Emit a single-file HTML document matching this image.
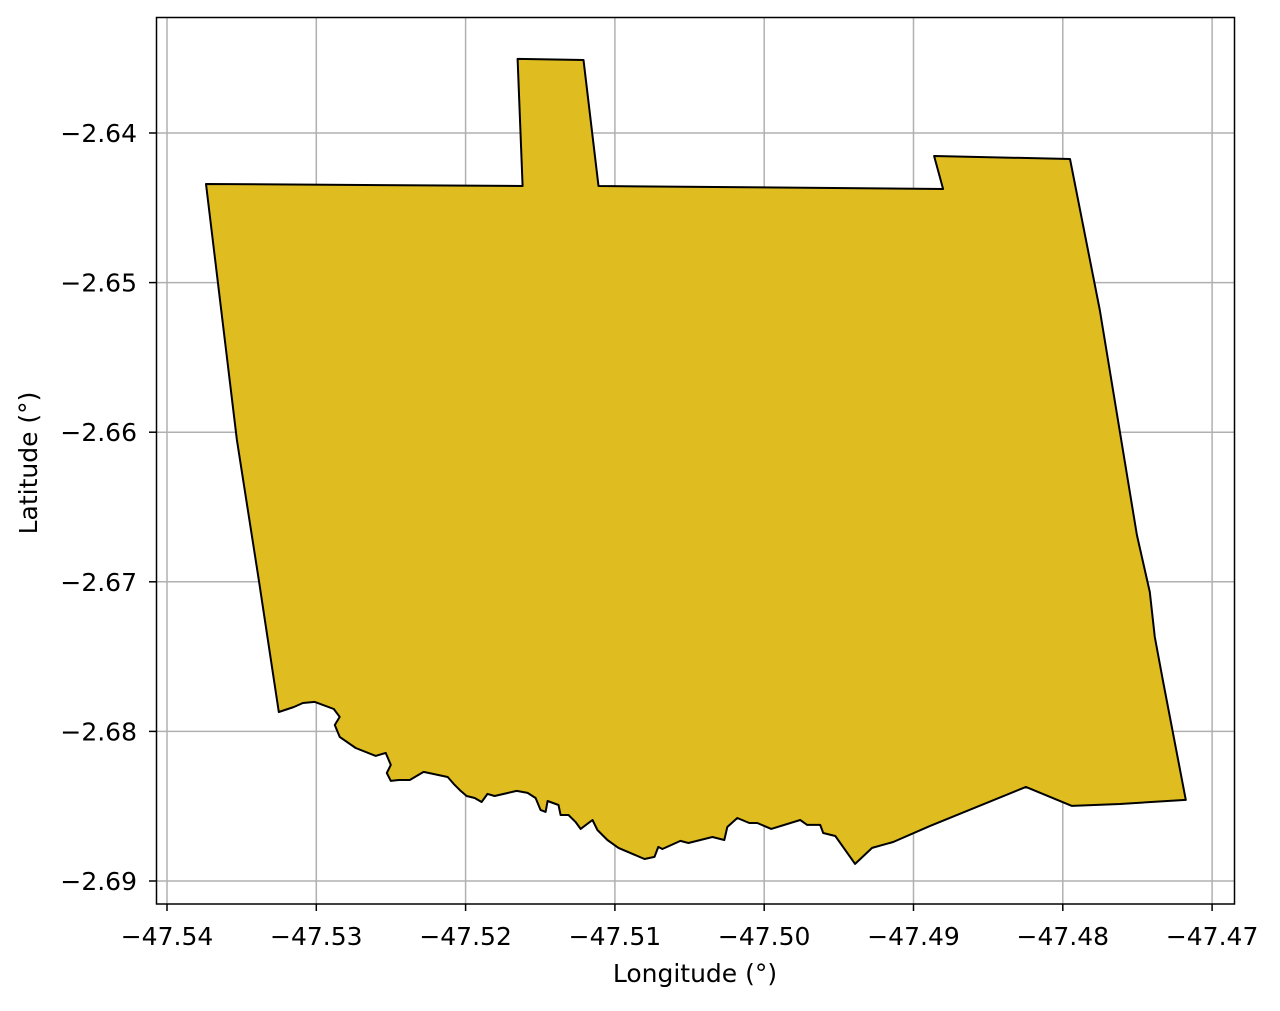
<!DOCTYPE html>
<html><head><meta charset="utf-8"><style>
html,body{margin:0;padding:0;background:#fff;}
svg text{font-family:"DejaVu Sans","Liberation Sans",sans-serif;font-size:25px;fill:#000;}
</style></head><body>
<svg id="chart" width="1280" height="1006" xmlns="http://www.w3.org/2000/svg">
<g id="grid"></g>
<g id="shape"></g>
<rect x="156.5" y="17.5" width="1078" height="886.5" fill="none" stroke="#000" stroke-width="1.5"/>
<g id="ticks"></g>
<text x="695" y="982" text-anchor="middle">Longitude (°)</text>
<text transform="translate(37,463) rotate(-90)" text-anchor="middle">Latitude (°)</text>
</svg>
<script>
const xTicks=[-47.54,-47.53,-47.52,-47.51,-47.50,-47.49,-47.48,-47.47];
const xTickLabels=["−47.54","−47.53","−47.52","−47.51","−47.50","−47.49","−47.48","−47.47"];
const yTicks=[-2.64,-2.65,-2.66,-2.67,-2.68,-2.69];
const yTickLabels=["−2.64","−2.65","−2.66","−2.67","−2.68","−2.69"];
const lons=[-47.53739,-47.51618,-47.51652,-47.51210,-47.51110,-47.48802,-47.48862,-47.47952,-47.47752,-47.47504,-47.47417,-47.47384,-47.47330,-47.47176,-47.47618,-47.47939,-47.48247,-47.48889,-47.49136,-47.49277,-47.49391,-47.49524,-47.49605,-47.49625,-47.49712,-47.49759,-47.49953,-47.50046,-47.50100,-47.50180,-47.50247,-47.50267,-47.50347,-47.50508,-47.50561,-47.50682,-47.50709,-47.50735,-47.50802,-47.50976,-47.51050,-47.51117,-47.51150,-47.51230,-47.51264,-47.51311,-47.51364,-47.51378,-47.51451,-47.51464,-47.51498,-47.51531,-47.51585,-47.51658,-47.51806,-47.51853,-47.51893,-47.51939,-47.51993,-47.52033,-47.52080,-47.52120,-47.52281,-47.52374,-47.52448,-47.52501,-47.52528,-47.52501,-47.52535,-47.52602,-47.52736,-47.52843,-47.52876,-47.52843,-47.52883,-47.53010,-47.53090,-47.53150,-47.53251,-47.53385,-47.53532];
const lats=[-2.64341,-2.64354,-2.63505,-2.63512,-2.64354,-2.64374,-2.64154,-2.64174,-2.65183,-2.66687,-2.67068,-2.67369,-2.67656,-2.68458,-2.68485,-2.68498,-2.68371,-2.68632,-2.68739,-2.68779,-2.68886,-2.68699,-2.68679,-2.68625,-2.68625,-2.68592,-2.68652,-2.68612,-2.68612,-2.68579,-2.68639,-2.68726,-2.68706,-2.68746,-2.68732,-2.68786,-2.68772,-2.68839,-2.68853,-2.68779,-2.68726,-2.68659,-2.68592,-2.68652,-2.68605,-2.68559,-2.68559,-2.68492,-2.68465,-2.68538,-2.68525,-2.68445,-2.68411,-2.68398,-2.68432,-2.68418,-2.68472,-2.68445,-2.68432,-2.68398,-2.68351,-2.68305,-2.68271,-2.68325,-2.68325,-2.68331,-2.68278,-2.68224,-2.68144,-2.68164,-2.68111,-2.68037,-2.67957,-2.67903,-2.67850,-2.67803,-2.67810,-2.67837,-2.67870,-2.66988,-2.66052];
const NS="http://www.w3.org/2000/svg";
function xs(v){return 167+(v+47.54)*14930;}
function ys(v){return 133+(-2.64-v)*14960;}
const grid=document.getElementById('grid'),ticks=document.getElementById('ticks');
xTicks.forEach((t,i)=>{
 const l=document.createElementNS(NS,'line');l.setAttribute('x1',xs(t));l.setAttribute('x2',xs(t));l.setAttribute('y1',17.5);l.setAttribute('y2',904);l.setAttribute('stroke','#b0b0b0');l.setAttribute('stroke-width','1.5');
 
 
 grid.appendChild(l);
 const tk=document.createElementNS(NS,'line');tk.setAttribute('x1',xs(t));tk.setAttribute('x2',xs(t));tk.setAttribute('y1',904);tk.setAttribute('y2',911);tk.setAttribute('stroke','#000');tk.setAttribute('stroke-width','1.5');
 
 
 ticks.appendChild(tk);
 const tx=document.createElementNS(NS,'text');tx.setAttribute('x',xs(t));tx.setAttribute('y',945);tx.setAttribute('text-anchor','middle');tx.textContent=xTickLabels[i];
 
 
 ticks.appendChild(tx);
});
yTicks.forEach((t,i)=>{
 const l=document.createElementNS(NS,'line');l.setAttribute('y1',ys(t));l.setAttribute('y2',ys(t));l.setAttribute('x1',156.5);l.setAttribute('x2',1234.5);l.setAttribute('stroke','#b0b0b0');l.setAttribute('stroke-width','1.5');
 
 
 grid.appendChild(l);
 const tk=document.createElementNS(NS,'line');tk.setAttribute('y1',ys(t));tk.setAttribute('y2',ys(t));tk.setAttribute('x1',149);tk.setAttribute('x2',156.5);tk.setAttribute('stroke','#000');tk.setAttribute('stroke-width','1.5');
 
 
 ticks.appendChild(tk);
 const tx=document.createElementNS(NS,'text');tx.setAttribute('x',137);tx.setAttribute('y',ys(t)+9);tx.setAttribute('text-anchor','end');tx.textContent=yTickLabels[i];
 
 
 ticks.appendChild(tx);
});
const pts=lons.map((v,i)=>xs(v).toFixed(1)+','+ys(lats[i]).toFixed(1)).join(' ');
const poly=document.createElementNS(NS,'polygon');
poly.setAttribute('points',pts);poly.setAttribute('fill','#dfbd20');poly.setAttribute('stroke','#000');poly.setAttribute('stroke-width','2');poly.setAttribute('stroke-linejoin','round');


document.getElementById('shape').appendChild(poly);
</script>
</body></html>
